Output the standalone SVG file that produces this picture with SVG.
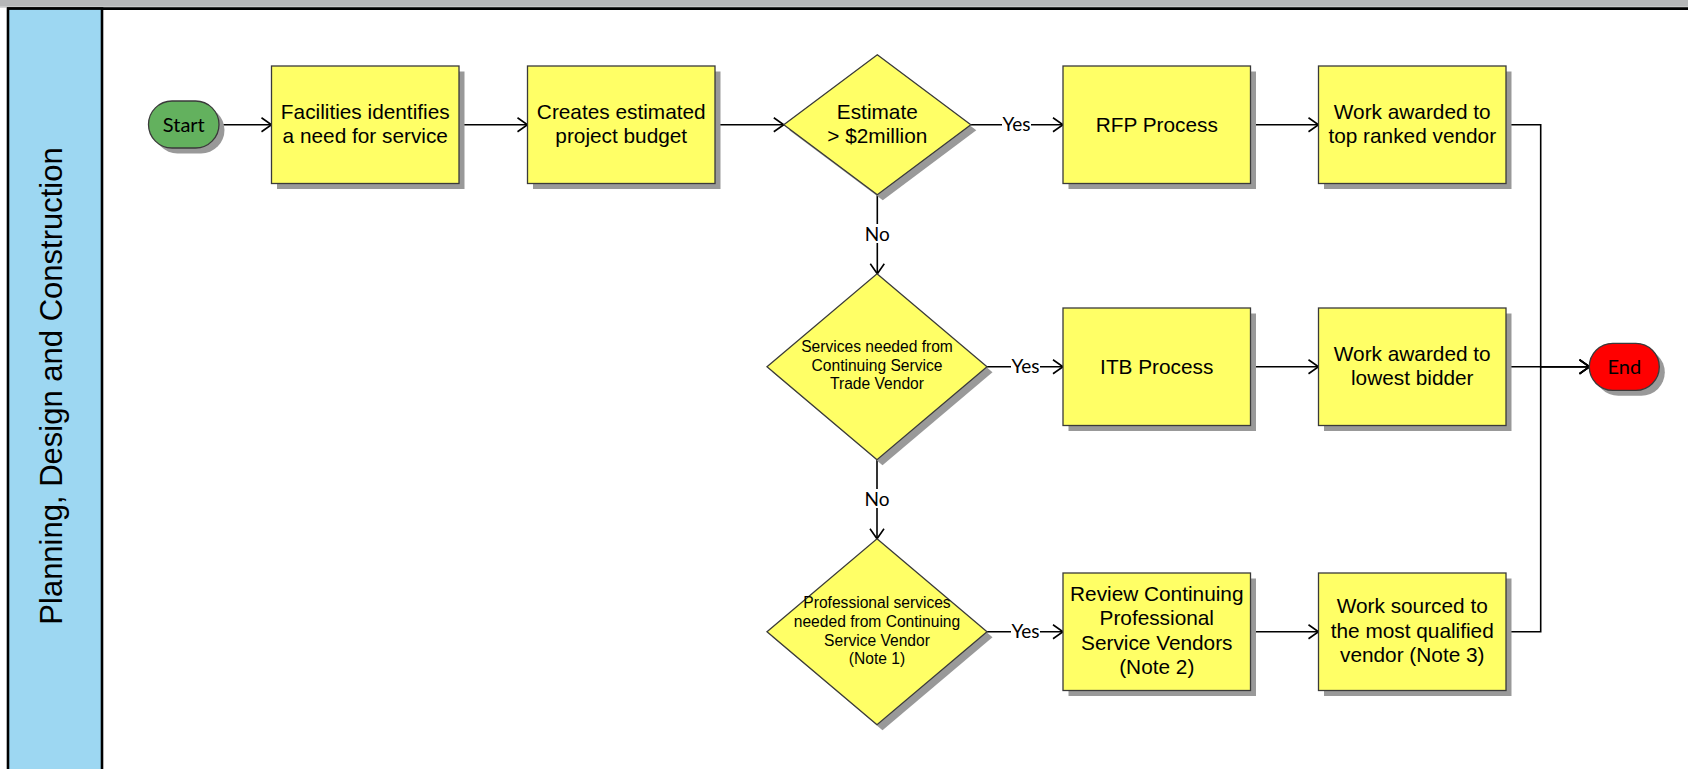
<svg xmlns="http://www.w3.org/2000/svg" width="1688" height="769" viewBox="0 0 1688 769">
<defs>
<marker id="arr" markerUnits="userSpaceOnUse" markerWidth="14" markerHeight="16" refX="11" refY="8" orient="auto">
<path d="M1,1 L11,8 L1,15" fill="none" stroke="#000" stroke-width="1.6"/>
</marker>
</defs>
<style>
.box{fill:#ffff66;stroke:#3a3a3a;stroke-width:1.3}
.shadow{fill:#999999}
.t{font-family:"Liberation Sans",Arial,sans-serif;font-size:20.8px;fill:#000;text-anchor:middle}
.td{font-family:"Liberation Sans",Arial,sans-serif;font-size:15.6px;fill:#000;text-anchor:middle}
.lbl{font-family:Lato,"Open Sans",sans-serif;font-size:19px;fill:#000;text-anchor:middle}
.term{font-family:Lato,"Open Sans",sans-serif;font-size:20px;fill:#000;text-anchor:middle}
.c{fill:none;stroke:#000;stroke-width:1.6}
.ca{fill:none;stroke:#000;stroke-width:1.6;marker-end:url(#arr)}
.lane{font-family:"Liberation Sans",Arial,sans-serif;font-size:31px;fill:#000;text-anchor:middle}
</style>
<rect x="0" y="0" width="1688" height="769" fill="#ffffff"/>
<g id="frame">
<rect x="0" y="0" width="1688" height="7.5" fill="#b6b7b8"/>
<line x1="0" y1="6.8" x2="1688" y2="6.8" stroke="#d0d0d0" stroke-width="1"/>
<line x1="7" y1="8.6" x2="1688" y2="8.6" stroke="#000" stroke-width="2.6"/>
</g>
<g id="lane">
<rect x="8" y="8.6" width="94" height="770" fill="#9dd7f2" stroke="#000" stroke-width="2.6"/>
<text class="lane" transform="translate(62 386) rotate(-90)">Planning, Design and Construction</text>
</g>
<g id="connectors">
<path class="ca" d="M219,124.75 H271.5"/>
<path class="ca" d="M459,124.75 H527.5"/>
<path class="ca" d="M715,124.75 H783.8"/>
<path class="ca" d="M970.8,124.75 H1063"/>
<path class="ca" d="M1250.5,124.75 H1318.5"/>
<path class="ca" d="M877.3,194.75 V273.75"/>
<path class="ca" d="M987,366.75 H1063"/>
<path class="ca" d="M1250.5,366.75 H1318.5"/>
<path class="ca" d="M877,459.75 V538.75"/>
<path class="ca" d="M987,631.75 H1063"/>
<path class="ca" d="M1250.5,631.75 H1318.5"/>
<path class="ca" d="M1506,124.75 H1540.7 V366.75 H1589.5"/>
<path class="ca" d="M1506,366.75 H1589.5"/>
<path class="ca" d="M1506,631.75 H1540.7 V366.75 H1589.5"/>
<rect x="1002" y="116" width="29" height="17" fill="#fff"/>
<text class="lbl" x="1016.5" y="131">Yes</text>
<rect x="1011" y="358" width="29" height="17" fill="#fff"/>
<text class="lbl" x="1025.4" y="373">Yes</text>
<rect x="1011" y="623" width="29" height="17" fill="#fff"/>
<text class="lbl" x="1025.4" y="638">Yes</text>
<rect x="865" y="224" width="25" height="19" fill="#fff"/>
<text class="lbl" x="877.3" y="240.8">No</text>
<rect x="865" y="489" width="25" height="19" fill="#fff"/>
<text class="lbl" x="877" y="505.8">No</text>
</g>
<g id="start">
<rect class="shadow" x="154" y="106.5" width="70.5" height="47" rx="23.5"/>
<rect x="148.5" y="101" width="70.5" height="47" rx="23.5" fill="#63b15e" stroke="#3a3a3a" stroke-width="1.3"/>
<text class="term" x="183.8" y="131.5">Start</text>
</g>
<g id="facilities">
<rect class="shadow" x="277" y="71.5" width="187.5" height="117.5"/>
<rect class="box" x="271.5" y="66" width="187.5" height="117.5"/>
<text class="t" x="365.25" y="118.5">Facilities identifies</text>
<text class="t" x="365.25" y="142.9">a need for service</text>
</g>
<g id="budget">
<rect class="shadow" x="533" y="71.5" width="187.5" height="117.5"/>
<rect class="box" x="527.5" y="66" width="187.5" height="117.5"/>
<text class="t" x="621.25" y="118.5">Creates estimated</text>
<text class="t" x="621.25" y="142.9">project budget</text>
</g>
<g id="estimate">
<polygon class="shadow" points="882.8,60.25 976.3,130.25 882.8,200.25 789.3,130.25"/>
<polygon class="box" points="877.3,54.75 970.8,124.75 877.3,194.75 783.8,124.75"/>
<text class="t" x="877.3" y="118.5">Estimate</text>
<text class="t" x="877.3" y="142.9">&gt; $2million</text>
</g>
<g id="rfp">
<rect class="shadow" x="1068.5" y="71.5" width="187.5" height="117.5"/>
<rect class="box" x="1063" y="66" width="187.5" height="117.5"/>
<text class="t" x="1156.75" y="132.1">RFP Process</text>
</g>
<g id="work-top">
<rect class="shadow" x="1324" y="71.5" width="187.5" height="117.5"/>
<rect class="box" x="1318.5" y="66" width="187.5" height="117.5"/>
<text class="t" x="1412.25" y="118.5">Work awarded to</text>
<text class="t" x="1412.25" y="142.9">top ranked vendor</text>
</g>
<g id="trade">
<polygon class="shadow" points="882.5,279.25 992.5,372.25 882.5,465.25 772.5,372.25"/>
<polygon class="box" points="877,273.75 987,366.75 877,459.75 767,366.75"/>
<text class="td" x="877" y="351.9">Services needed from</text>
<text class="td" x="877" y="370.6">Continuing Service</text>
<text class="td" x="877" y="389.3">Trade Vendor</text>
</g>
<g id="itb">
<rect class="shadow" x="1068.5" y="313.5" width="187.5" height="117.5"/>
<rect class="box" x="1063" y="308" width="187.5" height="117.5"/>
<text class="t" x="1156.75" y="374.1">ITB Process</text>
</g>
<g id="work-mid">
<rect class="shadow" x="1324" y="313.5" width="187.5" height="117.5"/>
<rect class="box" x="1318.5" y="308" width="187.5" height="117.5"/>
<text class="t" x="1412.25" y="360.5">Work awarded to</text>
<text class="t" x="1412.25" y="384.9">lowest bidder</text>
</g>
<g id="professional">
<polygon class="shadow" points="882.5,544.25 992.5,637.25 882.5,730.25 772.5,637.25"/>
<polygon class="box" points="877,538.75 987,631.75 877,724.75 767,631.75"/>
<text class="td" x="877" y="608.3">Professional services</text>
<text class="td" x="877" y="627">needed from Continuing</text>
<text class="td" x="877" y="645.7">Service Vendor</text>
<text class="td" x="877" y="664.4">(Note 1)</text>
</g>
<g id="review">
<rect class="shadow" x="1068.5" y="578.5" width="187.5" height="117.5"/>
<rect class="box" x="1063" y="573" width="187.5" height="117.5"/>
<text class="t" x="1156.75" y="600.7">Review Continuing</text>
<text class="t" x="1156.75" y="625.1">Professional</text>
<text class="t" x="1156.75" y="649.5">Service Vendors</text>
<text class="t" x="1156.75" y="673.9">(Note 2)</text>
</g>
<g id="work-bottom">
<rect class="shadow" x="1324" y="578.5" width="187.5" height="117.5"/>
<rect class="box" x="1318.5" y="573" width="187.5" height="117.5"/>
<text class="t" x="1412.25" y="613.3">Work sourced to</text>
<text class="t" x="1412.25" y="637.7">the most qualified</text>
<text class="t" x="1412.25" y="662.1">vendor (Note 3)</text>
</g>
<g id="end">
<rect class="shadow" x="1594.8" y="348.8" width="70" height="47" rx="23.5"/>
<rect x="1589.3" y="343.3" width="70" height="47" rx="23.5" fill="#ff0000" stroke="#3a3a3a" stroke-width="1.3"/>
<text class="term" x="1624.3" y="373.5">End</text>
</g>
</svg>
